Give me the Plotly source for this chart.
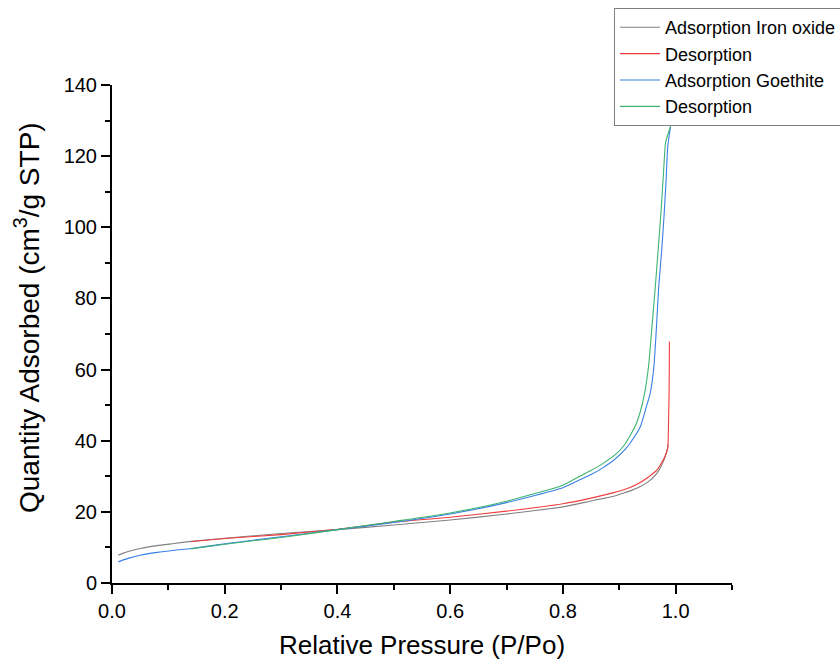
import plotly.graph_objects as go

# Iron oxide adsorption (gray)
fe_ads_x = [0.011, 0.02, 0.03, 0.05, 0.08, 0.11, 0.14, 0.2, 0.3, 0.4, 0.5, 0.6, 0.7, 0.8, 0.848, 0.89, 0.908,
            0.93, 0.95, 0.967, 0.975, 0.9835, 0.987]
fe_ads_y = [7.8, 8.4, 8.9, 9.7, 10.5, 11.1, 11.7, 12.6, 13.9, 15.0, 16.3, 17.7, 19.4, 21.4, 23.0, 24.4, 25.3,
            26.6, 28.3, 30.9, 33.0, 36.5, 39.0]

# Iron oxide desorption (red)
fe_des_x = [0.989, 0.9885, 0.987, 0.986, 0.98, 0.967, 0.95, 0.93, 0.908, 0.89, 0.848, 0.8, 0.7, 0.6, 0.5,
            0.4, 0.3, 0.2, 0.14]
fe_des_y = [67.9, 55.0, 42.0, 38.0, 35.2, 31.8, 29.6, 27.6, 26.2, 25.4, 23.8, 22.3, 20.2, 18.5, 17.1,
            15.1, 13.6, 12.5, 11.6]

# Goethite adsorption (blue)
go_ads_x = [0.011, 0.02, 0.03, 0.05, 0.08, 0.11, 0.14, 0.2, 0.3, 0.4, 0.5, 0.6, 0.7, 0.8, 0.83, 0.85, 0.87,
            0.89, 0.91, 0.92, 0.9375, 0.948, 0.955, 0.9615, 0.966, 0.970, 0.975, 0.979, 0.983, 0.986, 0.991]
go_ads_y = [5.9, 6.5, 7.0, 7.8, 8.6, 9.2, 9.7, 11.0, 13.0, 15.0, 17.0, 19.4, 22.6, 26.8, 29.0, 30.5, 32.3,
            34.5, 37.5, 39.5, 44.0, 49.5, 53.4, 61.0, 72.0, 83.4, 93.0, 102.1, 113.0, 122.7, 128.4]

# Goethite desorption (green)
go_des_x = [0.991, 0.986, 0.982, 0.978, 0.973, 0.964, 0.958, 0.952, 0.945, 0.937, 0.928, 0.91, 0.896, 0.87,
            0.848, 0.83, 0.8, 0.7, 0.6, 0.5, 0.4, 0.3, 0.2, 0.14]
go_des_y = [128.4, 126.0, 123.7, 114.0, 102.1, 83.4, 72.0, 61.0, 53.4, 48.0, 44.0, 39.0, 36.5, 33.5,
            31.5, 30.0, 27.5, 23.0, 19.7, 17.3, 15.0, 12.8, 10.9, 9.6]

names = ["Adsorption Iron oxide", "Desorption", "Adsorption Goethite", "Desorption"]
colors = ["#808080", "#f03c3c", "#3a7fe6", "#3cb371"]

x_title = "Relative Pressure (P/Po)"
y_title = "Quantity Adsorbed (cm<sup>3</sup>/g STP)"

FONT = "Liberation Sans, Arial, sans-serif"

fig = go.Figure()
for xs, ys, nm, c in zip([fe_ads_x, fe_des_x, go_ads_x, go_des_x],
                         [fe_ads_y, fe_des_y, go_ads_y, go_des_y], names, colors):
    fig.add_trace(go.Scatter(x=xs, y=ys, mode="lines", name=nm,
                             line=dict(color=c, width=1.1, shape="spline", smoothing=0.5)))

axis_common = dict(
    showline=True, linecolor="black", linewidth=2, mirror=False,
    showgrid=False, zeroline=False,
    ticks="outside", ticklen=9, tickwidth=2, tickcolor="black",
    tickfont=dict(family=FONT, size=20, color="black"),
)

fig.update_layout(
    width=840, height=660,
    paper_bgcolor="white", plot_bgcolor="white",
    margin=dict(l=112, r=108, t=85, b=77, autoexpand=False),
    font=dict(family=FONT, color="black"),
    xaxis=dict(range=[0, 1.1], dtick=0.2, tick0=0, tickformat=".1f",
               minor=dict(dtick=0.1, tick0=0, ticklen=5, tickwidth=2, tickcolor="black", ticks="outside"),
               title=dict(text=x_title, font=dict(family=FONT, size=26), standoff=18),
               **axis_common),
    yaxis=dict(range=[0, 140], dtick=20, tick0=0,
               minor=dict(dtick=10, tick0=0, ticklen=5, tickwidth=2, tickcolor="black", ticks="outside"),
               **axis_common),
    annotations=[dict(text=y_title, xref="paper", yref="paper", x=0, y=(583 - 318) / 498,
                      xanchor="center", yanchor="middle", xshift=-85, textangle=-90, showarrow=False,
                      font=dict(family=FONT, size=28, color="black"))],
    legend=dict(x=(614 - 112) / 620, y=(583 - 8) / 498, xanchor="left", yanchor="top",
                bgcolor="white", bordercolor="#808080", borderwidth=1,
                font=dict(family=FONT, size=18, color="black"),
                itemwidth=40, tracegroupgap=0),
    showlegend=True,
)

fig.write_html("out.html")
